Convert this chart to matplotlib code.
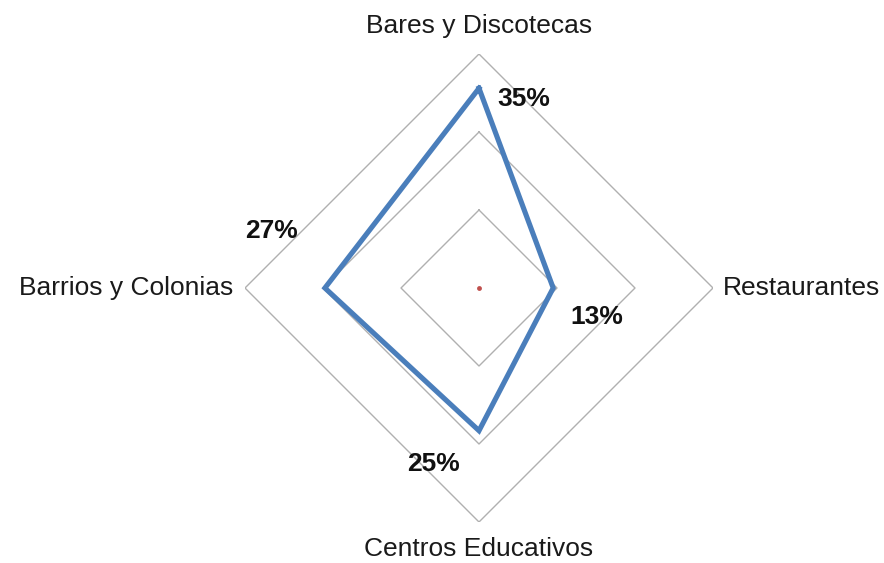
import numpy as np
import matplotlib
matplotlib.use("Agg")
import matplotlib.pyplot as plt

plt.rcParams['font.family'] = ['Liberation Sans', 'DejaVu Sans']

categories = ["Bares y Discotecas", "Restaurantes", "Centros Educativos", "Barrios y Colonias"]
values = [0.35, 0.13, 0.25, 0.27]
value_labels = ["35%", "13%", "25%", "27%"]
r_max = 0.41
n_rings = 3

fig = plt.figure(figsize=(8.84, 5.63), dpi=100)
W, H = 884, 563
cx, cy, R = 479, 288, 234
ax = fig.add_axes([(cx - R) / W, (H - cy - R) / H, 2 * R / W, 2 * R / H], projection='polar')
ax.set_theta_zero_location('N')
ax.set_theta_direction(-1)
ax.set_ylim(0, r_max)
ax.axis('off')

n = len(categories)
theta = np.arange(n) * 2 * np.pi / n
theta_c = np.append(theta, theta[0])

# diamond gridlines
for k in range(1, n_rings + 1):
    rr = np.full(n + 1, r_max * k / n_rings)
    ax.plot(theta_c, rr, color='#B0B0B0', lw=1.0, zorder=1)

# data series
vals_c = np.append(values, values[0])
ax.plot(theta_c, vals_c, color='#4A7EBB', lw=3.7, solid_joinstyle='miter', zorder=3)

# center dot
ax.plot([0], [0], marker='o', ms=3.5, color='#C0504D', mec='none', zorder=4)

# category labels
cat_offsets = [(0, 28, 'center', 'center'), (10, 0, 'left', 'center'),
               (0, -27, 'center', 'center'), (-12, 0, 'right', 'center')]
for t, lab, (dx, dy, ha, va) in zip(theta, categories, cat_offsets):
    ax.annotate(lab, xy=(t, r_max), xytext=(dx, dy), textcoords='offset pixels',
                ha=ha, va=va, fontsize=19, color='#1a1a1a', annotation_clip=False)

# value labels
val_offsets = [(45, -11), (44, -29), (-46, -33), (-53, 57)]
for t, v, lab, (dx, dy) in zip(theta, values, value_labels, val_offsets):
    ax.annotate(lab, xy=(t, v), xytext=(dx, dy), textcoords='offset pixels',
                ha='center', va='center', fontsize=19, fontweight='bold',
                color='#111111', annotation_clip=False)

fig.savefig('out.png', dpi=100)
